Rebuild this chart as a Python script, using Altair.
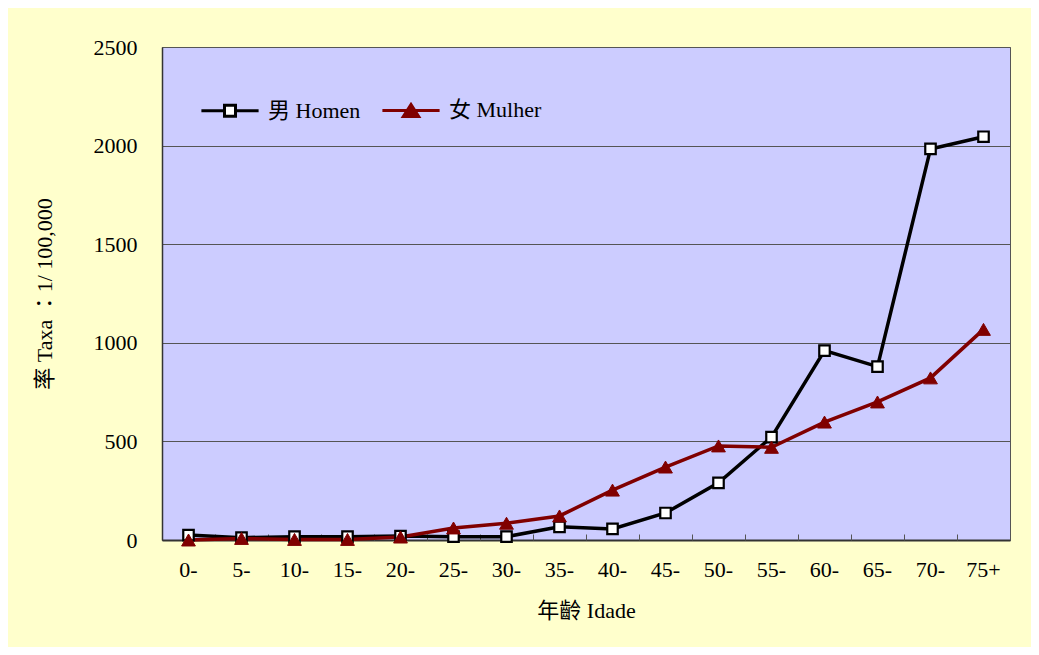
import altair as alt
import pandas as pd

ages = ["0-", "5-", "10-", "15-", "20-", "25-", "30-", "35-", "40-", "45-",
        "50-", "55-", "60-", "65-", "70-", "75+"]
male = [25, 12, 17, 17, 20, 17, 17, 67, 56, 137, 290, 522, 960, 879, 1983, 2045]
female = [0, 8, 3, 3, 15, 61, 85, 122, 253, 370, 477, 470, 598, 700, 822, 1068]
series_names = ["男 Homen", "女 Mulher"]
y_ticks = [0, 500, 1000, 1500, 2000, 2500]

rows = []
for a, m, f in zip(ages, male, female):
    rows.append({"age": a, "series": series_names[0], "rate": m})
    rows.append({"age": a, "series": series_names[1], "rate": f})
df = pd.DataFrame(rows)

FONT = "Liberation Serif, Noto Sans CJK TC, serif"
W, H = 848, 493

xscale = alt.Scale(type="band", domain=ages, paddingInner=0, paddingOuter=0)
yscale = alt.Scale(domain=[0, 2500], nice=False)
yaxis = alt.Axis(values=y_ticks, format="d", title="率 Taxa ：1/ 100,000", ticks=False,
                 labelFont=FONT, labelFontSize=22, labelColor="black", labelPadding=25,
                 titleFont=FONT, titleFontSize=22, titleFontWeight="normal", titleColor="black",
                 titlePadding=37, grid=True, gridColor="#555555", gridWidth=1,
                 domainColor="#333333", domainWidth=1.5)

color_dom = series_names
line_colors = ["#000000", "#800000"]

lines = alt.Chart(df).mark_line(strokeWidth=3.5).encode(
    x=alt.X("age:N", scale=xscale, bandPosition=0.5,
            axis=alt.Axis(title="年齡 Idade", ticks=False, labelAngle=0,
                          labelFont=FONT, labelFontSize=22, labelColor="black", labelPadding=19,
                          titleFont=FONT, titleFontSize=22, titleFontWeight="normal",
                          titleColor="black", titlePadding=20,
                          domainColor="#333333", domainWidth=2)),
    y=alt.Y("rate:Q", scale=yscale, axis=yaxis),
    color=alt.Color("series:N", scale=alt.Scale(domain=color_dom, range=line_colors), legend=None),
    detail="series:N",
)

points = alt.Chart(df).mark_point(filled=False, opacity=1).encode(
    x=alt.X("age:N", scale=xscale, bandPosition=0.5,
            axis=alt.Axis(orient="top", offset=-H, labels=False, domain=False, grid=False,
                          title=None, ticks=True, tickBand="extent", tickSize=6,
                          tickColor="#555555", tickWidth=1)),
    y=alt.Y("rate:Q", scale=yscale, axis=yaxis),
    shape=alt.Shape("series:N", scale=alt.Scale(domain=color_dom, range=["square", "triangle-up"]), legend=None),
    fill=alt.Fill("series:N", scale=alt.Scale(domain=color_dom, range=["#ffffff", "#800000"]), legend=None),
    stroke=alt.Stroke("series:N", scale=alt.Scale(domain=color_dom, range=["#000000", "#800000"]), legend=None),
    size=alt.Size("series:N", scale=alt.Scale(domain=color_dom, range=[110, 190]), legend=None),
    strokeWidth=alt.StrokeWidth("series:N", scale=alt.Scale(domain=color_dom, range=[2.2, 1]), legend=None),
)

legend_paths = [
    "M-5.2,0H-1M1,0H5.2M-1,-1H1V1H-1Z",
    "M-5.2,0H5.2M-1.4,1.1L0,-1.1L1.4,1.1Z",
]
legend_layer = alt.Chart(df).transform_filter("false").mark_point(size=121, strokeWidth=3, opacity=1).encode(
    shape=alt.Shape("series:N", scale=alt.Scale(domain=color_dom, range=legend_paths),
                    legend=alt.Legend(title=None, orient="none", direction="horizontal",
                                      legendX=57, legendY=52, padding=0,
                                      labelFont=FONT, labelFontSize=22, labelColor="black",
                                      labelOffset=27, columnPadding=15, symbolSize=121,
                                      symbolStrokeWidth=3, symbolOpacity=1)),
    fill=alt.Fill("series:N", scale=alt.Scale(domain=color_dom, range=["#ffffff", "#800000"])),
    stroke=alt.Stroke("series:N", scale=alt.Scale(domain=color_dom, range=["#000000", "#800000"])),
)

chart = alt.layer(lines, points, legend_layer).resolve_scale(
    shape="independent", fill="independent", stroke="independent"
).resolve_legend(
    shape="independent", fill="independent", stroke="independent"
).resolve_axis(x="independent").properties(
    width=W, height=H,
    autosize=alt.AutoSizeParams(type="none"),
    padding={"left": 154, "top": 39, "right": 21, "bottom": 107},
    background="#FFFFCC",
    view=alt.ViewBackground(fill="#CCCCFF", stroke="#555555", strokeWidth=1),
).configure(font=FONT)

chart.save("out.html", embed_options={"renderer": "svg", "actions": False})
